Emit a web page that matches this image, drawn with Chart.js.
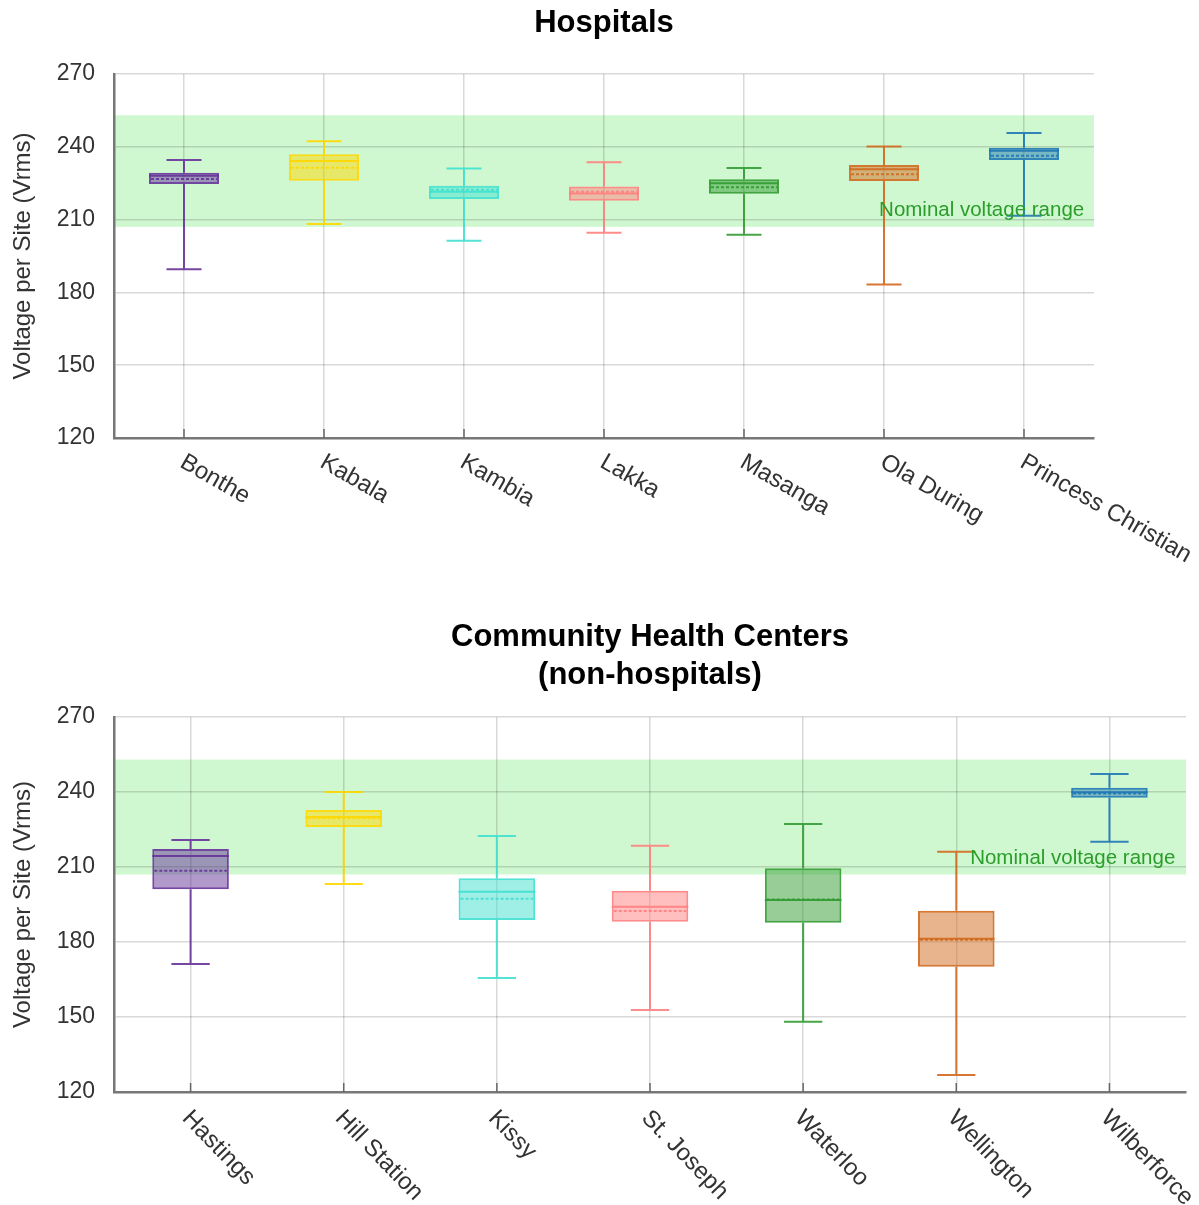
<!DOCTYPE html>
<html>
<head>
<meta charset="utf-8">
<script src="https://cdn.jsdelivr.net/npm/chart.js@4.4.0/dist/chart.umd.min.js"></script>
<style>
  body { margin: 0; background: #fff; }
  canvas { display: block; }
</style>
</head>
<body>
<canvas id="hospitals" width="1199" height="600"></canvas>
<canvas id="chc" width="1199" height="605"></canvas>
<script>
// values (Vrms)
const hospitalSites = ["Bonthe", "Kabala", "Kambia", "Lakka", "Masanga", "Ola During", "Princess Christian"];
const hospitalMin    = [189.5, 208.2, 201.3, 204.6, 203.8, 183.3, 211.6];
const hospitalQ1     = [224.7, 226.0, 218.5, 217.8, 220.7, 225.9, 234.6];
const hospitalMedian = [228.1, 234.1, 221.5, 220.8, 225.0, 230.7, 238.4];
const hospitalMean   = [226.7, 231.4, 222.3, 221.5, 223.3, 228.7, 236.3];
const hospitalQ3     = [229.3, 236.9, 224.0, 223.6, 226.6, 232.5, 239.6];
const hospitalMax    = [234.6, 242.3, 231.1, 233.6, 231.3, 240.1, 245.7];

const chcSites  = ["Hastings", "Hill Station", "Kissy", "St. Joseph", "Waterloo", "Wellington", "Wilberforce"];
const chcMin    = [171.2, 203.2, 165.6, 152.8, 148.1, 126.8, 220.1];
const chcQ1     = [201.1, 226.0, 188.8, 188.1, 187.7, 170.1, 237.7];
const chcMedian = [214.4, 230.0, 200.1, 194.1, 196.8, 181.3, 239.9];
const chcMean   = [208.5, 229.5, 197.3, 192.4, 197.0, 180.9, 239.4];
const chcQ3     = [217.2, 232.8, 205.5, 200.5, 209.5, 192.5, 241.7];
const chcMax    = [220.8, 240.0, 222.4, 218.5, 227.2, 216.1, 247.2];

const yTicks = [120, 150, 180, 210, 240, 270];
const nominalRange = [207, 253];
const nominalLabel = "Nominal voltage range";

const siteColors = ["102,51,153", "255,215,0", "64,224,208", "255,127,127", "50,155,50", "210,105,30", "31,119,180"];

Chart.defaults.font.family = "'Liberation Sans', Arial, sans-serif";
Chart.defaults.color = "#333";

const GRID = "rgba(0,0,0,0.15)";
const AXIS = "#777";

function boxPlugin(stats, labelRot, labelDx, labelDy) {
  return {
    id: "boxStuff",
    beforeDraw(chart) {
      const { ctx, chartArea, scales } = chart;
      const y = scales.y;
      ctx.save();
      ctx.fillStyle = "rgba(144,238,144,0.42)";
      const top = y.getPixelForValue(nominalRange[1]);
      const bot = y.getPixelForValue(nominalRange[0]);
      ctx.fillRect(chartArea.left, top, chartArea.right - chartArea.left, bot - top);
      ctx.restore();
    },
    afterDatasetsDraw(chart) {
      const { ctx, chartArea, scales } = chart;
      const x = scales.x, y = scales.y;
      const bars = chart.getDatasetMeta(0).data;
      ctx.save();
      ctx.lineWidth = 2;
      bars.forEach((bar, i) => {
        const cx = x.getPixelForValue(i);
        const half = bar.width / 2;
        const cap = bar.width / 4;
        const col = "rgba(" + siteColors[i] + ",0.9)";
        ctx.strokeStyle = col;
        ctx.setLineDash([]);
        ctx.beginPath();
        // whiskers
        ctx.moveTo(cx, y.getPixelForValue(stats.q3[i]));
        ctx.lineTo(cx, y.getPixelForValue(stats.max[i]));
        ctx.moveTo(cx, y.getPixelForValue(stats.q1[i]));
        ctx.lineTo(cx, y.getPixelForValue(stats.min[i]));
        // caps
        ctx.moveTo(cx - cap, y.getPixelForValue(stats.max[i]));
        ctx.lineTo(cx + cap, y.getPixelForValue(stats.max[i]));
        ctx.moveTo(cx - cap, y.getPixelForValue(stats.min[i]));
        ctx.lineTo(cx + cap, y.getPixelForValue(stats.min[i]));
        // median
        ctx.moveTo(cx - half, y.getPixelForValue(stats.median[i]));
        ctx.lineTo(cx + half, y.getPixelForValue(stats.median[i]));
        ctx.stroke();
        // mean, dotted
        ctx.setLineDash([3, 2]);
        ctx.beginPath();
        ctx.moveTo(cx - half + 2, y.getPixelForValue(stats.mean[i]));
        ctx.lineTo(cx + half - 2, y.getPixelForValue(stats.mean[i]));
        ctx.stroke();
      });
      ctx.setLineDash([]);

      // small tick marks on the x axis
      ctx.strokeStyle = "#666";
      ctx.lineWidth = 1.5;
      bars.forEach((bar, i) => {
        const cx = x.getPixelForValue(i);
        ctx.beginPath();
        ctx.moveTo(cx, chartArea.bottom);
        ctx.lineTo(cx, chartArea.bottom - 9);
        ctx.stroke();
      });

      // nominal range text
      ctx.fillStyle = "#2a9d2a";
      ctx.font = "20.5px 'Liberation Sans', Arial, sans-serif";
      ctx.textAlign = "right";
      ctx.textBaseline = "bottom";
      const w = chartArea.right - chartArea.left;
      ctx.fillText(nominalLabel, chartArea.right - 0.01 * w, y.getPixelForValue(nominalRange[0] + 2.5));

      // rotated category labels
      ctx.fillStyle = "#333";
      ctx.font = "24px 'Liberation Sans', Arial, sans-serif";
      ctx.textAlign = "left";
      ctx.textBaseline = "top";
      chart.data.labels.forEach((lab, i) => {
        const cx = x.getPixelForValue(i);
        ctx.save();
        ctx.translate(cx + labelDx, chartArea.bottom + labelDy);
        ctx.rotate(labelRot * Math.PI / 180);
        ctx.fillText(lab, 0, 0);
        ctx.restore();
      });
      ctx.restore();
    }
  };
}

function makeChart(id, sites, stats, opt) {
  var config = {
    type: "bar",
    data: {
      labels: sites,
      datasets: [
        {
          data: sites.map((s, i) => [stats.q1[i], stats.q3[i]]),
          backgroundColor: siteColors.map(c => "rgba(" + c + ",0.5)"),
          borderColor: siteColors.map(c => "rgba(" + c + ",0.9)"),
          borderWidth: 2,
          borderSkipped: false,
          categoryPercentage: 1,
          barPercentage: 0.5,
        }
      ]
    },
    options: {
      responsive: false,
      animation: false,
      layout: { padding: { left: 0, right: opt.padRight, top: 0, bottom: 0 } },
      plugins: {
        legend: { display: false },
        tooltip: { enabled: false },
        title: {
          display: true,
          fullSize: false,
          text: opt.title,
          color: "#000",
          font: { size: 31, weight: "bold", lineHeight: opt.titleLH },
          padding: { top: opt.titleTop, bottom: opt.titleBottom },
        },
      },
      scales: {
        x: {
          ticks: { display: false },
          grid: { offset: false, color: GRID, lineWidth: 1.5, drawTicks: false },
          border: { color: AXIS, width: 2.5 },
          afterFit: s => { s.height = opt.xHeight; },
        },
        y: {
          min: yTicks[0],
          max: yTicks[yTicks.length - 1],
          afterBuildTicks: s => { s.ticks = yTicks.map(v => ({ value: v })); },
          ticks: { color: "#333", font: { size: 23 }, padding: 19 },
          grid: { color: GRID, lineWidth: 1.5, drawTicks: false },
          border: { color: AXIS, width: 2.5 },
          title: {
            display: true,
            text: "Voltage per Site (Vrms)",
            color: "#333",
            font: { size: 24 },
            padding: { top: 9, bottom: 0 },
          },
          afterFit: s => { s.width = 114; },
        },
      },
    },
    plugins: [boxPlugin(stats, opt.rot, opt.dx, opt.dy)],
  };
  return new Chart(document.getElementById(id).getContext("2d"), config);
}

makeChart("hospitals", hospitalSites, {
  min: hospitalMin, q1: hospitalQ1, median: hospitalMedian, mean: hospitalMean, q3: hospitalQ3, max: hospitalMax
}, { title: "Hospitals", titleLH: 1.2, titleTop: 5, titleBottom: 31.8, padRight: 105, xHeight: 162, rot: 30, dx: 4, dy: 12 });

makeChart("chc", chcSites, {
  min: chcMin, q1: chcQ1, median: chcMedian, mean: chcMean, q3: chcQ3, max: chcMax
}, { title: ["Community Health Centers", "(non-hospitals)"], titleLH: 1.226, titleTop: 18, titleBottom: 23, padRight: 13, xHeight: 113, rot: 46, dx: 4, dy: 14 });
</script>
</body>
</html>
